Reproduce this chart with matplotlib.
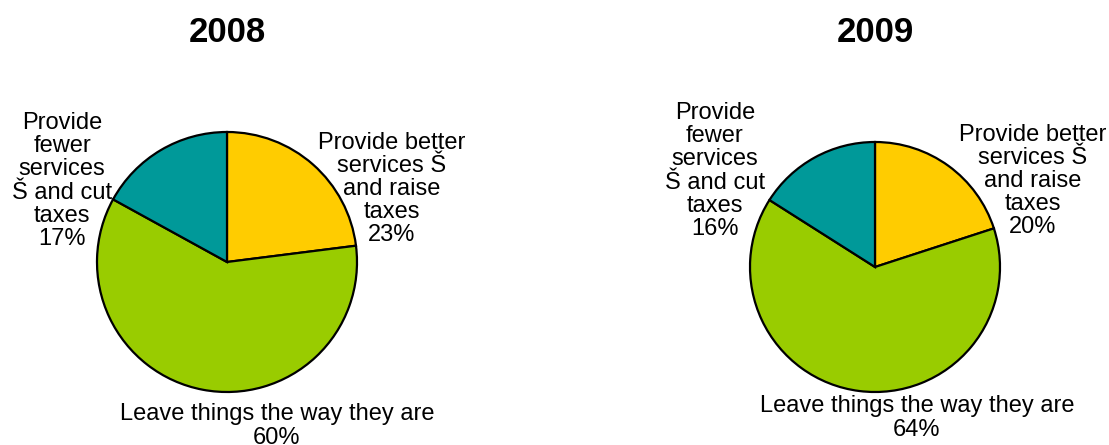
import matplotlib
matplotlib.use("Agg")
import matplotlib.pyplot as plt

plt.rcParams['font.family'] = ['Liberation Sans', 'DejaVu Sans']

# donnees
annees = ["2008", "2009"]
categories = ["Provide better\nservices Š\nand raise\ntaxes",
              "Leave things the way they are",
              "Provide\nfewer\nservices\nŠ and cut\ntaxes"]
valeurs_2008 = [23, 60, 17]
valeurs_2009 = [20, 64, 16]
couleurs = ["#FFCC00", "#99CC00", "#009999"]

W, H = 1109, 445
fig = plt.figure(figsize=(W / 100, H / 100), dpi=100)

# centre et rayon de chaque camembert (pixels)
pies = [
    (valeurs_2008, (227, 262, 130),
     [(392, 189), (277, 426), (62, 181)]),
    (valeurs_2009, (875, 267, 125),
     [(1033, 181), (917, 418), (715, 171)]),
]

for annee, (vals, (cx, cy, r), pos) in zip(annees, pies):
    ax = fig.add_axes([(cx - r) / W, (H - cy - r) / H, 2 * r / W, 2 * r / H])
    ax.pie(vals, colors=couleurs, startangle=90, counterclock=False, radius=1,
           wedgeprops=dict(edgecolor="black", linewidth=1.6))
    ax.set_xlim(-1, 1)
    ax.set_ylim(-1, 1)
    ax.set_aspect("equal")
    ax.axis("off")
    for cat, v, (px, py) in zip(categories, vals, pos):
        fig.text(px / W, 1 - py / H, cat + "\n" + str(v) + "%",
                 ha="center", va="center", fontsize=17, linespacing=1.07)
    fig.text(cx / W, 1 - 32 / H, annee, ha="center", va="center",
             fontsize=25, fontweight="bold")

fig.savefig("out.png", dpi=100)
